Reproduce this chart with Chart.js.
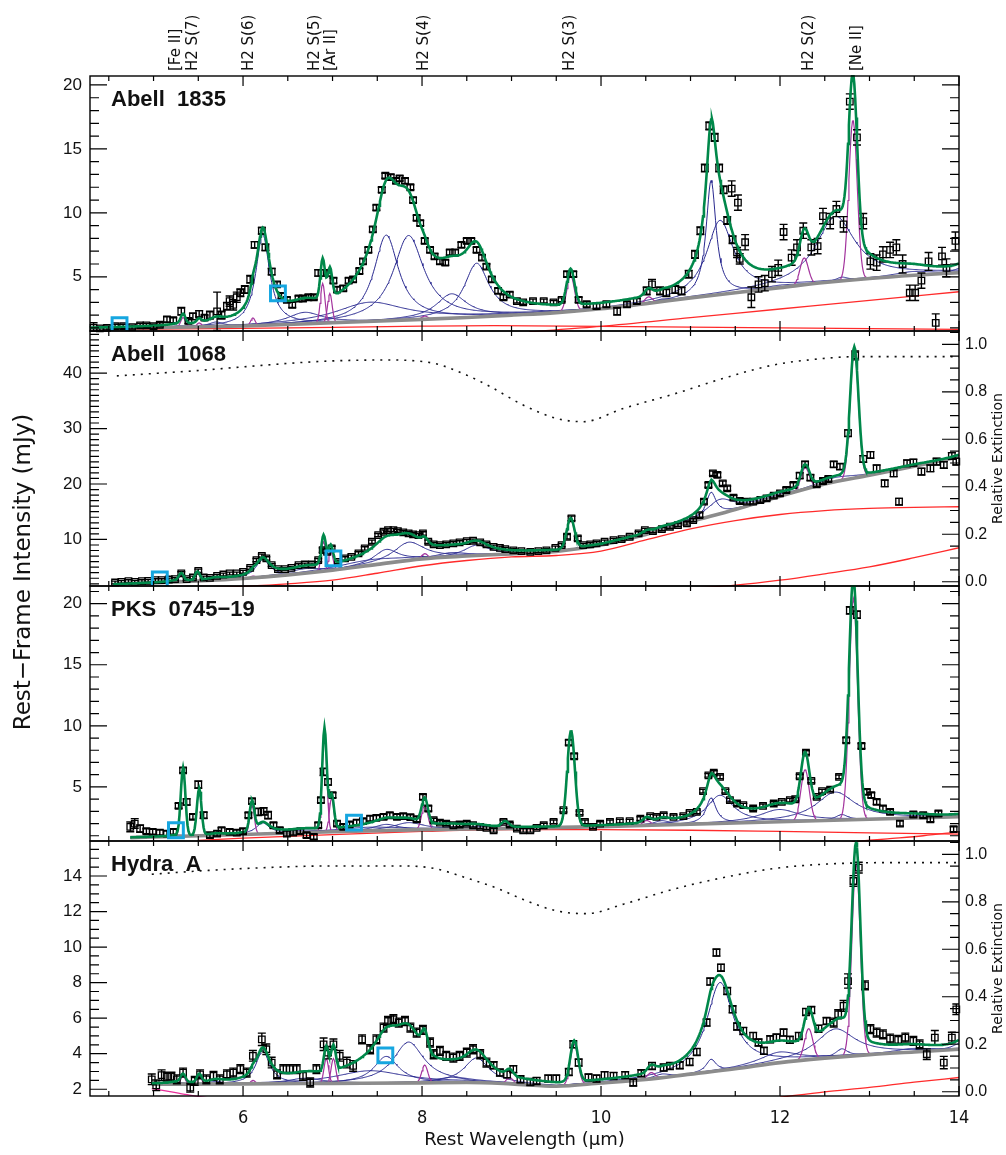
<!DOCTYPE html>
<html>
<head>
<meta charset="utf-8">
<script src="https://cdn.jsdelivr.net/npm/chart.js@4.4.0/dist/chart.umd.min.js"></script>
<style>
  html, body { margin: 0; padding: 0; background: #fff; }
  #wrap { position: relative; width: 1006px; height: 1155px; }
  #wrap canvas { position: absolute; left: 0; top: 0; }
</style>
</head>
<body>
<div id="wrap">
  <canvas id="p1" width="1006" height="1155"></canvas>
  <canvas id="p2" width="1006" height="1155"></canvas>
  <canvas id="p3" width="1006" height="1155"></canvas>
  <canvas id="p4" width="1006" height="1155"></canvas>
</div>
<script>
// ---------- shared lists ----------
const waveTicks = [6, 8, 10, 12, 14];
const extTicks = [0, 0.2, 0.4, 0.6, 0.8, 1.0];

const labelNames = ['[Fe II]', 'H2 S(7)', 'H2 S(6)', 'H2 S(5)', '[Ar II]', 'H2 S(4)', 'H2 S(3)', 'H2 S(2)', '[Ne II]'];
const labelWave = [5.25, 5.44, 6.07, 6.80, 6.98, 8.02, 9.66, 12.33, 12.86];

// PAH bands (centre, fractional FWHM)
const pahWave = [5.27, 5.70, 6.22, 6.69, 7.42, 7.60, 7.85, 8.33, 8.61, 10.68, 11.23, 11.33, 11.99, 12.62, 12.69, 13.48, 14.04];
const pahFrac = [0.034, 0.035, 0.030, 0.07, 0.126, 0.044, 0.053, 0.05, 0.039, 0.02, 0.012, 0.032, 0.045, 0.042, 0.013, 0.04, 0.016];
// emission lines: [Fe II], H2 S(7), S(6), S(5), [Ar II], S(4), [Ar III], S(3), [S IV], S(2), [Ne II]
const lineFwhm = [0.06, 0.06, 0.06, 0.06, 0.06, 0.08, 0.09, 0.1, 0.1, 0.11, 0.11];

// ---------- Abell 1835 ----------
const a1835Wave = [4.33,4.40,4.48,4.57,4.66,4.76,4.85,4.92,5.00,5.07,
  5.15,5.22,5.31,5.39,5.44,5.51,5.57,5.63,5.71,5.76,
  5.82,5.85,5.89,5.93,5.97,6.02,6.08,6.13,6.21,6.25,
  6.32,6.38,6.43,6.49,6.55,6.62,6.67,6.73,6.79,6.84,
  6.90,6.95,7.01,7.05,7.12,7.18,7.23,7.30,7.34,7.40,
  7.45,7.49,7.55,7.59,7.65,7.71,7.75,7.81,7.87,7.90,
  7.94,7.98,8.03,8.09,8.14,8.20,8.26,8.31,8.37,8.44,
  8.50,8.55,8.61,8.67,8.72,8.78,8.85,8.91,8.98,9.06,
  9.13,9.24,9.36,9.47,9.56,9.62,9.69,9.75,9.84,9.95,
  10.06,10.18,10.29,10.40,10.51,10.57,10.66,10.73,10.83,10.90,
  10.98,11.05,11.11,11.16,11.21,11.27,11.32,11.37,11.41,11.46,
  11.47,11.52,11.53,11.55,11.61,11.68,11.76,11.83,11.91,11.98,
  12.04,12.13,12.19,12.26,12.35,12.42,12.48,12.56,12.63,12.71,
  12.78,12.86,12.93,13.01,13.08,13.15,13.23,13.30,13.37,13.45,
  13.51,13.58,13.66,13.74,13.81,13.86,13.96];
const a1835Flux = [1.0,0.96,1.0,1.13,1.13,1.07,1.2,1.2,1.13,1.25,
  1.67,1.6,2.3,1.55,1.9,2.1,1.8,2.0,2.3,2.0,
  2.7,3.1,2.8,3.4,3.75,4.0,4.8,7.5,8.6,7.3,
  5.4,4.4,3.5,3.2,2.8,3.3,3.3,3.4,3.4,5.3,
  5.3,5.3,4.7,4.0,4.1,4.7,4.8,5.45,6.2,7.1,
  8.7,10.4,11.8,12.9,12.8,12.5,12.7,12.5,12.0,11.0,
  9.6,9.2,7.8,7.1,6.6,6.2,6.1,6.9,6.9,7.5,
  7.8,7.8,7.1,6.5,5.8,4.8,3.9,3.4,3.6,3.1,
  3.0,3.1,3.1,3.0,3.2,5.2,5.2,3.2,2.85,2.7,
  2.85,2.3,2.85,3.1,3.9,4.4,3.9,3.75,4.0,3.9,
  5.2,6.75,8.6,13.5,16.8,15.9,13.5,11.8,9.4,11.9,
  7.9,6.9,10.8,6.4,7.7,3.4,4.4,4.5,5.2,5.7,
  8.5,6.5,7.3,8.6,7.3,7.4,9.75,9.35,10.3,9.1,
  18.7,15.9,9.35,6.2,6.1,6.75,7.1,7.3,6.0,3.75,
  3.75,4.7,6.2,1.4,6.6,5.7,7.8];
const a1835Err = [0.4,0.15,0.15,0.15,0.15,0.15,0.15,0.15,0.15,0.15,
  0.2,0.2,0.3,0.2,0.25,0.25,0.2,0.3,1.5,0.3,
  0.3,0.4,0.4,0.4,0.3,0.3,0.3,0.25,0.25,0.25,
  0.25,0.2,0.2,0.2,0.2,0.2,0.2,0.2,0.2,0.25,
  0.25,0.25,0.2,0.2,0.2,0.2,0.2,0.2,0.2,0.2,
  0.2,0.2,0.2,0.2,0.2,0.2,0.2,0.2,0.2,0.2,
  0.2,0.2,0.2,0.2,0.2,0.2,0.2,0.2,0.2,0.2,
  0.2,0.2,0.2,0.2,0.2,0.2,0.2,0.2,0.2,0.15,
  0.15,0.15,0.15,0.15,0.15,0.2,0.2,0.2,0.2,0.2,
  0.2,0.3,0.2,0.2,0.3,0.4,0.3,0.3,0.3,0.3,
  0.3,0.3,0.3,0.3,0.3,0.3,0.3,0.3,0.3,0.6,
  0.3,0.4,0.6,0.4,0.6,0.8,0.6,0.6,0.6,0.6,
  0.6,0.6,0.6,0.6,0.6,0.6,0.6,0.6,0.6,0.6,
  0.6,0.6,0.6,0.6,0.6,0.6,0.6,0.6,0.7,0.6,
  0.6,0.6,0.7,0.7,0.7,0.7,0.7];
const a1835ContWave = [4.29, 5, 6, 7, 8, 8.5, 9, 9.5, 10, 10.5, 11, 11.5, 12, 12.5, 13, 13.5, 14];
const a1835Cont = [0.96, 1.03, 1.15, 1.4, 1.67, 1.82, 2.0, 2.2, 2.5, 2.9, 3.35, 3.75, 4.15, 4.55, 4.87, 5.12, 5.32];
const a1835Red1Wave = [4.29, 5, 6, 7, 8, 8.8, 10, 12, 14];
const a1835Red1 = [0.86, 0.9, 0.97, 1.05, 1.14, 1.18, 1.12, 1.01, 0.89];
const a1835Red2Wave = [9.2, 10, 11, 12, 13, 14];
const a1835Red2 = [0.7, 1.12, 1.8, 2.48, 3.16, 3.83];
const a1835Pah = [0.1, 0.35, 7.1, 0.9, 1.5, 6.7, 6.6, 1.9, 4.2, 0.2, 9.0, 5.8, 0.2, 5.1, 0.3, 0.3, 0.4];
const a1835LineWave = [5.33, 5.51, 6.11, 6.89, 6.97, 8.03, 8.99, 9.66, 10.53, 12.27, 12.815];
const a1835Line = [0.75, 0.3, 0.6, 3.1, 2.3, 0.25, 0, 2.8, 0.5, 2.1, 12.5];
const a1835MarkWave = [4.62, 6.39];
const a1835Mark = [1.22, 3.7];
const a1835Ticks = [5, 10, 15, 20];

// ---------- Abell 1068 ----------
const a1068Wave = [4.57,4.64,4.72,4.79,4.87,4.94,5.02,5.09,5.17,5.24,
  5.31,5.37,5.44,5.50,5.56,5.63,5.71,5.78,5.85,5.93,
  6.00,6.08,6.15,6.21,6.26,6.32,6.39,6.47,6.54,6.62,
  6.69,6.77,6.84,6.89,6.94,6.99,7.06,7.14,7.21,7.29,
  7.36,7.44,7.51,7.57,7.62,7.68,7.73,7.79,7.85,7.90,
  7.96,8.01,8.07,8.13,8.20,8.27,8.35,8.42,8.50,8.57,
  8.65,8.72,8.80,8.87,
  8.93,9.02,9.11,9.21,9.30,9.39,9.49,9.56,9.62,9.67,
  9.74,9.80,9.88,9.95,10.04,10.14,10.23,10.32,10.42,10.49,
  10.58,10.68,10.77,10.86,10.96,11.03,11.10,11.15,11.20,11.25,
  11.30,11.36,11.41,11.48,11.55,11.63,11.70,11.78,11.85,11.93,
  12.00,12.07,12.15,12.22,12.28,12.34,12.41,12.48,12.54,12.60,
  12.67,12.76,12.84,12.93,13.01,13.08,13.17,13.27,13.33,13.42,
  13.49,13.58,13.68,13.75,13.83,13.92,13.97];
const a1068Flux = [2.23,2.35,2.47,2.35,2.47,2.53,2.65,2.65,2.77,2.83,
  3.86,2.83,3.13,4.34,3.13,3.07,3.43,3.67,3.86,3.86,
  4.16,4.88,6.27,7.05,6.57,5.36,4.64,4.64,4.88,5.36,
  5.48,5.48,6.27,8.07,7.77,8.37,5.96,6.57,6.87,7.47,
  8.37,9.58,10.78,11.39,11.69,11.69,11.51,11.27,11.08,10.9,
  10.78,11.08,9.58,9.1,8.98,9.1,9.28,9.46,9.7,9.76,
  9.46,9.1,8.67,8.49,
  8.25,8.01,7.89,7.77,7.89,8.01,8.49,8.98,10.48,13.8,
  10.18,8.98,9.1,9.28,9.58,9.88,10.06,10.48,11.08,11.69,
  11.51,11.87,12.29,12.59,12.89,13.49,14.4,16.81,19.82,21.93,
  21.63,20.12,19.22,17.53,16.93,16.81,16.81,17.11,17.41,17.89,
  18.31,18.92,19.82,21.51,23.55,21.14,19.94,20.54,20.9,23.55,
  23.13,29.16,43.19,24.52,25.24,22.83,20.12,21.93,16.81,23.73,
  23.86,22.23,22.83,24.04,23.43,25.06,24.04];
const a1068Err = [0.25,0.25,0.25,0.25,0.25,0.25,0.25,0.25,0.25,0.25,
  0.3,0.25,0.25,0.3,0.25,0.25,0.25,0.25,0.25,0.25,
  0.25,0.25,0.3,0.3,0.3,0.25,0.25,0.25,0.25,0.25,
  0.25,0.25,0.3,0.4,0.4,0.4,0.3,0.3,0.3,0.3,
  0.3,0.3,0.3,0.3,0.3,0.3,0.3,0.3,0.3,0.3,
  0.3,0.3,0.3,0.3,0.3,0.3,0.3,0.3,0.3,0.3,
  0.3,0.3,0.3,0.3,
  0.3,0.3,0.3,0.3,0.3,0.3,0.3,0.3,0.4,0.4,
  0.4,0.3,0.3,0.3,0.3,0.3,0.3,0.3,0.3,0.3,
  0.3,0.3,0.3,0.3,0.3,0.3,0.4,0.4,0.4,0.4,
  0.4,0.4,0.4,0.4,0.4,0.4,0.4,0.4,0.4,0.4,
  0.4,0.4,0.4,0.5,0.5,0.5,0.4,0.4,0.4,0.5,
  0.5,0.6,0.8,0.6,0.6,0.6,0.6,0.6,0.6,0.6,
  0.6,0.6,0.6,0.6,0.6,0.6,0.6];
const a1068ContWave = [4.55, 5, 5.5, 6, 6.5, 7, 7.5, 8, 8.5, 9, 9.5, 10, 10.5, 11, 11.5, 12, 12.5, 13, 13.5, 14];
const a1068Cont = [1.87, 2.15, 2.5, 2.95, 3.6, 4.45, 5.5, 6.5, 7.0, 7.4, 7.85, 9.0, 10.9, 13.2, 15.4, 17.8, 20.0, 21.6, 23.2, 24.9];
const a1068Red1Wave = [5.5, 6.0, 6.5, 7.0, 7.5, 8.0, 8.5, 9.0, 9.5, 10.0, 10.5, 11.0, 11.5, 12.0, 12.5, 13.0, 13.5, 14.0];
const a1068Red1 = [1.2, 1.55, 2.0, 2.65, 3.9, 5.25, 6.2, 6.85, 7.1, 7.9, 9.9, 11.9, 13.4, 14.5, 15.2, 15.6, 15.8, 15.9];
const a1068Red2Wave = [11.1, 11.5, 12, 12.5, 13, 13.5, 14];
const a1068Red2 = [1.3, 1.75, 2.65, 3.8, 5.05, 6.7, 8.5];
const a1068Pah = [0.3, 0.3, 3.2, 0.8, 1.0, 2.5, 3.3, 0.8, 1.9, 0.3, 4.3, 2.6, 0.4, 0.8, 0.2, 0.2, 0.3];
const a1068LineWave = [5.31, 5.49, 6.11, 6.90, 6.98, 8.03, 8.99, 9.66, 10.51, 12.28, 12.83];
const a1068Line = [1.2, 1.5, 0.3, 5.3, 3.4, 0.9, 0, 5.4, 0.4, 3.9, 23.0];
const a1068MarkWave = [5.07, 7.01];
const a1068Mark = [2.77, 6.57];
const a1068ExtWave = [4.59, 5.0, 5.52, 6.0, 6.64, 7.0, 7.57, 8.13, 8.5, 8.76, 9.13, 9.5, 9.8, 10.25, 10.81, 11.37, 11.93, 12.48, 12.86, 13.5, 14.0];
const a1068Ext = [0.867, 0.877, 0.89, 0.905, 0.923, 0.93, 0.934, 0.92, 0.87, 0.822, 0.744, 0.688, 0.674, 0.73, 0.79, 0.857, 0.913, 0.94, 0.948, 0.948, 0.948];
const a1068Ticks = [10, 20, 30, 40];

// ---------- PKS 0745-19 ----------
const pksWave = [4.74,4.79,4.85,4.92,4.99,5.07,5.15,5.22,5.28,5.33,
  5.37,5.44,5.50,5.56,5.63,5.71,5.76,5.85,5.93,6.00,
  6.06,6.10,6.17,6.23,6.28,6.34,6.41,6.49,6.56,6.64,
  6.71,6.79,6.84,6.87,6.90,6.95,7.00,7.05,7.12,7.19,
  7.27,7.34,7.42,7.49,7.57,7.64,7.72,7.79,7.87,7.94,
  8.01,8.07,8.13,8.20,8.27,8.35,8.42,8.50,8.57,8.65,
  8.72,8.80,
  8.91,8.98,9.06,9.13,9.21,9.28,9.36,9.47,9.58,9.64,
  9.70,9.76,9.82,9.91,9.99,10.10,10.21,10.32,10.44,10.55,
  10.62,10.70,10.81,10.92,10.99,11.07,11.14,11.20,11.26,11.33,
  11.39,11.44,11.52,11.59,11.70,11.81,11.93,12.02,12.11,12.17,
  12.22,12.29,12.35,12.41,12.47,12.56,12.66,12.74,12.78,12.86,
  12.91,12.97,13.02,13.08,13.15,13.23,13.34,13.49,13.60,13.68,
  13.77,13.94];
const pksFlux = [1.73,2.0,1.59,1.37,1.32,1.26,1.18,1.32,3.45,6.36,
  3.77,2.55,5.19,2.68,1.05,1.18,1.45,1.32,1.26,1.37,
  2.68,3.83,2.95,3.0,2.68,1.86,1.45,1.18,1.26,1.37,
  1.05,0.91,1.86,3.91,6.23,5.41,4.32,2.0,1.73,1.92,
  2.08,2.19,2.41,2.46,2.55,2.68,2.55,2.6,2.52,2.35,
  4.18,3.23,2.27,2.08,2.0,1.86,1.92,2.0,1.86,1.73,
  1.65,1.45,
  2.14,1.92,1.59,1.45,1.45,1.65,1.86,2.14,3.09,8.63,
  7.51,2.87,2.14,1.73,2.0,2.14,2.19,2.19,2.41,2.6,
  2.55,2.68,2.55,2.6,2.87,2.95,4.65,5.95,6.17,5.82,
  4.65,3.91,3.64,3.5,3.23,3.45,3.64,3.77,3.91,3.99,
  5.87,7.81,5.49,4.18,4.65,4.78,5.82,8.82,19.45,19.1,
  8.35,4.59,4.32,3.77,3.23,2.95,2.0,2.74,2.68,2.35,
  2.82,1.54];
const pksErr = [0.4,0.4,0.3,0.2,0.2,0.2,0.2,0.2,0.2,0.2,
  0.25,0.2,0.3,0.25,0.2,0.2,0.2,0.2,0.2,0.2,
  0.2,0.2,0.3,0.3,0.3,0.2,0.2,0.2,0.2,0.2,
  0.2,0.2,0.2,0.2,0.3,0.25,0.2,0.2,0.2,0.2,
  0.2,0.2,0.2,0.2,0.2,0.2,0.2,0.2,0.2,0.2,
  0.2,0.2,0.15,0.15,0.15,0.15,0.15,0.15,0.15,0.15,
  0.15,0.15,
  0.15,0.15,0.15,0.15,0.15,0.15,0.15,0.15,0.15,0.2,
  0.2,0.15,0.15,0.15,0.15,0.15,0.15,0.15,0.15,0.15,
  0.15,0.15,0.15,0.15,0.15,0.15,0.15,0.15,0.15,0.15,
  0.15,0.15,0.15,0.15,0.15,0.15,0.15,0.15,0.15,0.15,
  0.15,0.15,0.15,0.15,0.15,0.15,0.15,0.2,0.3,0.3,
  0.2,0.2,0.2,0.2,0.2,0.2,0.2,0.2,0.2,0.2,
  0.2,0.2];
const pksContWave = [4.74, 5, 6, 7, 8, 9, 10, 11, 12, 13, 14];
const pksCont = [0.85, 0.9, 1.1, 1.33, 1.5, 1.6, 1.75, 1.95, 2.15, 2.35, 2.55];
const pksRed1Wave = [5.5, 6, 7, 8, 9, 10, 11, 12, 13, 14];
const pksRed1 = [0.62, 0.8, 1.1, 1.35, 1.5, 1.5, 1.45, 1.35, 1.24, 1.13];
const pksRed2Wave = [12.8, 13.2, 13.6, 14];
const pksRed2 = [0.5, 0.75, 1.0, 1.32];
const pksPah = [0.1, 0.1, 0.9, 0.2, 0.3, 0.5, 0.6, 0.2, 0.2, 0.35, 2.1, 2.3, 1.0, 2.3, 0.45, 0.1, 0.1];
const pksLineWave = [5.33, 5.51, 6.10, 6.91, 6.99, 8.03, 8.93, 9.665, 10.51, 12.28, 12.82];
const pksLine = [5.5, 3.8, 2.4, 8.2, 2.75, 2.0, 0.45, 7.8, 0.4, 4.2, 18.1];
const pksMarkWave = [5.25, 7.24];
const pksMark = [1.45, 2.08];
const pksTicks = [5, 10, 15, 20];

// ---------- Hydra A ----------
const hydraWave = [4.98,5.03,5.09,5.15,5.20,5.26,5.33,5.41,5.46,5.52,
  5.59,5.67,5.74,5.82,5.89,5.97,6.04,6.11,6.21,6.26,
  6.32,6.38,6.45,6.52,6.60,6.67,6.75,6.82,6.90,6.95,
  7.01,7.08,7.16,7.23,7.33,7.42,7.49,7.57,7.62,7.68,
  7.74,7.81,7.87,7.94,8.01,8.09,8.13,8.20,8.27,8.35,
  8.42,8.50,8.57,8.65,8.72,
  8.80,8.87,8.95,9.02,9.10,9.21,9.28,9.41,9.50,9.64,
  9.69,9.75,9.86,9.95,10.04,10.14,10.27,10.36,10.45,10.57,
  10.70,10.77,10.88,10.99,11.07,11.18,11.22,11.29,11.34,11.41,
  11.47,11.52,11.59,11.70,11.76,11.82,11.89,11.96,12.04,12.11,
  12.21,12.29,12.35,12.43,12.52,12.60,12.65,12.71,12.76,12.82,
  12.88,12.95,13.01,13.08,13.15,13.23,13.32,13.40,13.49,13.56,
  13.64,13.73,13.83,13.92,13.97];
const hydraFlux = [2.56,2.22,2.79,2.71,2.71,2.56,2.94,2.09,2.47,2.84,
  2.56,2.75,2.56,2.84,2.94,3.13,2.94,3.88,4.81,4.25,
  3.5,2.84,3.13,3.13,3.13,2.75,2.38,3.13,4.53,4.06,
  4.53,3.88,3.5,3.31,4.81,4.25,4.81,5.47,5.84,5.94,
  5.75,5.84,5.47,5.19,5.34,4.63,3.97,4.16,3.88,3.78,
  3.88,4.06,4.25,3.97,3.5,
  3.35,2.94,2.84,3.13,2.56,2.41,2.47,2.6,2.6,2.97,
  4.53,3.5,2.66,2.6,2.79,2.75,2.79,2.38,2.9,3.31,
  3.22,3.31,3.35,3.54,4.1,5.75,8.06,9.69,8.84,7.53,
  6.5,5.53,5.28,5.0,4.63,4.16,4.81,4.91,5.19,4.78,
  5.0,6.35,6.46,5.41,5.84,5.75,6.22,6.69,8.09,13.72,
  14.47,7.85,5.38,5.19,5.09,4.85,4.78,4.91,4.72,4.53,
  3.97,4.91,3.5,4.91,6.5];
const hydraErr = [0.3,0.3,0.3,0.25,0.25,0.25,0.25,0.25,0.25,0.25,
  0.25,0.25,0.25,0.25,0.25,0.25,0.25,0.3,0.35,0.3,
  0.3,0.25,0.25,0.25,0.25,0.25,0.25,0.25,0.35,0.35,
  0.3,0.3,0.3,0.3,0.25,0.25,0.25,0.25,0.25,0.25,
  0.25,0.25,0.25,0.25,0.25,0.25,0.25,0.25,0.25,0.25,
  0.25,0.25,0.25,0.25,0.25,
  0.2,0.2,0.2,0.2,0.2,0.2,0.2,0.2,0.2,0.2,
  0.2,0.2,0.2,0.2,0.2,0.2,0.2,0.2,0.2,0.2,
  0.2,0.2,0.2,0.2,0.2,0.2,0.2,0.2,0.2,0.2,
  0.2,0.2,0.2,0.2,0.2,0.2,0.2,0.2,0.2,0.2,
  0.2,0.2,0.2,0.2,0.2,0.25,0.25,0.3,0.4,0.3,
  0.3,0.25,0.25,0.25,0.25,0.25,0.25,0.25,0.25,0.25,
  0.3,0.4,0.35,0.3,0.3];
const hydraContWave = [4.98, 6, 7, 8, 8.5, 9, 9.5, 10, 10.5, 11, 11.5, 12, 12.5, 13, 13.5, 14];
const hydraCont = [2.28, 2.3, 2.33, 2.36, 2.38, 2.3, 2.17, 2.35, 2.55, 2.85, 3.15, 3.5, 3.75, 3.95, 4.1, 4.25];
const hydraRed1Wave = [12.0, 12.5, 13, 13.5, 14];
const hydraRed1 = [1.55, 1.85, 2.1, 2.4, 2.66];
const hydraStarWave = [4.98, 5.2, 5.4, 5.6, 5.8];
const hydraStar = [2.04, 1.85, 1.67, 1.53, 1.42];
const hydraPah = [0.1, 0.15, 1.85, 0.3, 0.7, 1.5, 2.3, 0.3, 1.4, 0.2, 0.7, 4.96, 0.6, 1.6, 0.45, 0.2, 0.4];
const hydraLineWave = [5.33, 5.51, 6.11, 6.93, 7.01, 8.03, 8.98, 9.70, 10.56, 12.32, 12.85];
const hydraLine = [0.45, 0.45, 0.2, 1.4, 1.4, 1.0, 0.35, 2.3, 0.35, 1.75, 10.8];
const hydraMarkWave = [7.59];
const hydraMark = [3.91];
const hydraExtWave = [4.98, 5.52, 6.26, 7.01, 7.75, 8.13, 8.5, 8.84, 9.13, 9.5, 9.84, 10.25, 10.81, 11.37, 11.93, 12.48, 13.23, 14.0];
const hydraExt = [0.916, 0.93, 0.944, 0.951, 0.951, 0.941, 0.90, 0.857, 0.81, 0.762, 0.75, 0.79, 0.853, 0.902, 0.94, 0.958, 0.965, 0.965];
const hydraTicks = [2, 4, 6, 8, 10, 12, 14];

// ---------- layout + style ----------
const CANVAS_W = 1006, CANVAS_H = 1155;
const PLOT_LEFT = 90, PLOT_RIGHT = 959, PANEL_H = 255;
const X_MIN = 4.29, X_MAX = 14.0;
const SANS = "'DejaVu Sans', 'Liberation Sans', Arial, sans-serif";
const TICKFONT = "'Liberation Sans', Arial, sans-serif";
const NARROW = "'Liberation Sans Narrow', 'DejaVu Sans Condensed', 'Liberation Sans', sans-serif";
const INK = '#111';
const GREEN = '#00884a', BLUE = '#28288f', MAGENTA = '#a3339d', RED = '#ff2b2b';
const GRAY = '#8c8c8c', CYAN = '#16a6e0', PINK = '#e8309a';

const panels = [
  { id: 'p1', top: 76, yMin: 0.76, yMax: 20.7, minor: 1, major: 5, ticks: a1835Ticks, title: 'Abell  1835',
    wave: a1835Wave, flux: a1835Flux, err: a1835Err, contWave: a1835ContWave, cont: a1835Cont,
    reds: [[a1835Red1Wave, a1835Red1, RED], [a1835Red2Wave, a1835Red2, RED]],
    pah: a1835Pah, lineWave: a1835LineWave, lines: a1835Line, markWave: a1835MarkWave, mark: a1835Mark },
  { id: 'p2', top: 331, yMin: 1.6, yMax: 47.6, minor: 1, major: 10, ticks: a1068Ticks, title: 'Abell  1068',
    wave: a1068Wave, flux: a1068Flux, err: a1068Err, contWave: a1068ContWave, cont: a1068Cont,
    reds: [[a1068Red1Wave, a1068Red1, RED], [a1068Red2Wave, a1068Red2, RED]],
    pah: a1068Pah, lineWave: a1068LineWave, lines: a1068Line, markWave: a1068MarkWave, mark: a1068Mark,
    extWave: a1068ExtWave, ext: a1068Ext },
  { id: 'p3', top: 586, yMin: 0.57, yMax: 21.45, minor: 1, major: 5, ticks: pksTicks, title: 'PKS  0745\u221219',
    wave: pksWave, flux: pksFlux, err: pksErr, contWave: pksContWave, cont: pksCont,
    reds: [[pksRed1Wave, pksRed1, RED], [pksRed2Wave, pksRed2, RED]],
    pah: pksPah, lineWave: pksLineWave, lines: pksLine, markWave: pksMarkWave, mark: pksMark },
  { id: 'p4', top: 841, yMin: 1.62, yMax: 15.97, minor: 0.5, major: 2, ticks: hydraTicks, title: 'Hydra  A',
    wave: hydraWave, flux: hydraFlux, err: hydraErr, contWave: hydraContWave, cont: hydraCont,
    reds: [[hydraRed1Wave, hydraRed1, RED], [hydraStarWave, hydraStar, PINK]],
    pah: hydraPah, lineWave: hydraLineWave, lines: hydraLine, markWave: hydraMarkWave, mark: hydraMark,
    extWave: hydraExtWave, ext: hydraExt }
];

// ---------- model helpers ----------
function interp(xs, ys, x) {
  if (x <= xs[0]) return ys[0];
  for (let i = 1; i < xs.length; i++) {
    if (x <= xs[i]) {
      const t = (x - xs[i - 1]) / (xs[i] - xs[i - 1]);
      return ys[i - 1] + t * (ys[i] - ys[i - 1]);
    }
  }
  return ys[ys.length - 1];
}
function drude(x, c, g) {
  const d = x / c - c / x;
  return g * g / (d * d + g * g);
}
function gauss(x, c, fwhm) {
  const s = (x - c) / fwhm;
  return Math.exp(-4 * Math.LN2 * s * s);
}
function pairs(xs, ys) { return xs.map((x, i) => ({ x: x, y: ys[i] })); }
function curve(data, color, width, order, smooth) {
  const ds = { type: 'line', data: data, borderColor: color, borderWidth: width,
    pointRadius: 0, fill: false, order: order, clip: 1 };
  if (smooth) ds.cubicInterpolationMode = 'monotone';
  return ds;
}

// frame, inward ticks, error bars and panel text
function makeFrame(p, first) {
  return {
    id: 'frame_' + p.id,
    afterDatasetDraw(chart, args) {
      const ds = chart.data.datasets[args.index];
      if (!ds.errors) return;
      const { ctx, chartArea: a, scales: { x, y } } = chart;
      ctx.save();
      ctx.beginPath(); ctx.rect(a.left, a.top, a.width, a.height); ctx.clip();
      ctx.strokeStyle = '#000'; ctx.lineWidth = 1.4;
      ctx.beginPath();
      ds.data.forEach((pt, i) => {
        const px = x.getPixelForValue(pt.x);
        const yt = y.getPixelForValue(pt.y + ds.errors[i]);
        const yb = y.getPixelForValue(pt.y - ds.errors[i]);
        ctx.moveTo(px, yt); ctx.lineTo(px, yb);
        ctx.moveTo(px - 4, yt); ctx.lineTo(px + 4, yt);
        ctx.moveTo(px - 4, yb); ctx.lineTo(px + 4, yb);
      });
      ctx.stroke();
      ctx.restore();
    },
    afterDraw(chart) {
      const { ctx, chartArea: a, scales } = chart;
      const x = scales.x, y = scales.y, y2 = scales.y2;
      ctx.save();
      ctx.strokeStyle = '#000';
      ctx.lineWidth = 1.4;
      ctx.strokeRect(a.left, a.top, a.width, a.height);
      ctx.lineWidth = 1.2;
      ctx.beginPath();
      for (let i = 1; 4.0 + i * 0.5 <= X_MAX + 1e-9; i++) {
        const v = 4.0 + i * 0.5;
        if (v < X_MIN) continue;
        const px = x.getPixelForValue(v);
        const len = i % 4 === 0 ? 10 : 5;
        ctx.moveTo(px, a.bottom); ctx.lineTo(px, a.bottom - len);
        ctx.moveTo(px, a.top); ctx.lineTo(px, a.top + len);
      }
      const n0 = Math.ceil(p.yMin / p.minor - 1e-9), n1 = Math.floor(p.yMax / p.minor + 1e-9);
      for (let n = n0; n <= n1; n++) {
        const v = n * p.minor;
        const r = v / p.major;
        const len = Math.abs(r - Math.round(r)) < 1e-6 ? 17 : 9;
        const py = y.getPixelForValue(v);
        ctx.moveTo(a.left, py); ctx.lineTo(a.left + len, py);
        if (!y2) { ctx.moveTo(a.right, py); ctx.lineTo(a.right - len, py); }
      }
      if (y2) {
        for (let n = 0; n * 0.05 <= y2.max + 1e-9; n++) {
          const py = y2.getPixelForValue(n * 0.05);
          const len = n % 4 === 0 ? 17 : 9;
          ctx.moveTo(a.right, py); ctx.lineTo(a.right - len, py);
        }
      }
      ctx.stroke();

      ctx.fillStyle = INK;
      ctx.font = 'bold 22px ' + TICKFONT;
      ctx.textAlign = 'left';
      ctx.textBaseline = 'alphabetic';
      ctx.fillText(p.title, 111, a.top + 30);

      if (y2) {
        ctx.save();
        ctx.translate(998, (a.top + a.bottom) / 2);
        ctx.rotate(-Math.PI / 2);
        ctx.font = '14px ' + SANS;
        ctx.textAlign = 'center';
        ctx.textBaseline = 'middle';
        ctx.fillText('Relative Extinction', 0, 0);
        ctx.restore();
      }

      if (first) {
        ctx.font = '15px ' + SANS;
        labelNames.forEach((t, i) => {
          const px = x.getPixelForValue(labelWave[i]);
          ctx.save();
          ctx.translate(px, 71);
          ctx.rotate(-Math.PI / 2);
          ctx.textAlign = 'left';
          ctx.textBaseline = 'middle';
          ctx.fillText(t, 0, 0);
          ctx.restore();
        });
        ctx.save();
        ctx.translate(24, 572);
        ctx.rotate(-Math.PI / 2);
        ctx.font = '23px ' + SANS;
        ctx.textAlign = 'center';
        ctx.textBaseline = 'middle';
        ctx.fillText('Rest\u2212Frame Intensity (mJy)', 0, 0);
        ctx.restore();
      }
      ctx.restore();
    }
  };
}

function buildPanel(p, idx) {
  const first = idx === 0, last = idx === panels.length - 1;
  const bottom = p.top + PANEL_H;

  // model sampled on a fine wavelength grid
  const grid = [];
  for (let i = 0; p.contWave[0] + i * 0.01 <= X_MAX + 1e-9; i++) grid.push(p.contWave[0] + i * 0.01);
  const base = grid.map(w => interp(p.contWave, p.cont, w));
  const total = base.slice();
  const datasets = [];

  p.pah.forEach((amp, k) => {
    if (!amp) return;
    const pts = grid.map((w, i) => {
      const v = amp * drude(w, pahWave[k], pahFrac[k]);
      total[i] += v;
      return { x: w, y: base[i] + v };
    });
    datasets.push(curve(pts, BLUE, 1, 7, false));
  });
  p.lines.forEach((amp, k) => {
    if (!amp) return;
    const c = p.lineWave[k], f = lineFwhm[k];
    const pts = [];
    grid.forEach((w, i) => {
      const v = amp * gauss(w, c, f);
      total[i] += v;
      if (Math.abs(w - c) < 1.8 * f) pts.push({ x: w, y: base[i] + v });
    });
    datasets.push(curve(pts, MAGENTA, 1.2, 6, false));
  });
  p.reds.forEach(r => datasets.push(curve(pairs(r[0], r[1]), r[2], 1.3, 8, true)));
  datasets.push(curve(pairs(p.contWave, p.cont), GRAY, 3.6, 5, true));
  datasets.push(curve(grid.map((w, i) => ({ x: w, y: total[i] })), GREEN, 2.6, 3, false));

  datasets.push({
    type: 'scatter', data: pairs(p.wave, p.flux), errors: p.err,
    pointStyle: 'rect', pointRadius: 4.6, borderColor: '#000', borderWidth: 1.3,
    backgroundColor: 'rgba(0,0,0,0)', order: 4, clip: 2
  });
  datasets.push({
    type: 'scatter', data: pairs(p.markWave, p.mark),
    pointStyle: 'rect', pointRadius: 10.5, borderColor: CYAN, borderWidth: 3,
    backgroundColor: 'rgba(0,0,0,0)', order: 1
  });

  const scales = {
    x: {
      type: 'linear', position: 'bottom', min: X_MIN, max: X_MAX,
      grid: { display: false, drawTicks: false }, border: { display: false },
      ticks: { display: last, font: { family: NARROW, size: 18 }, color: INK, padding: 12, maxRotation: 0, autoSkip: false },
      afterBuildTicks: s => { s.ticks = waveTicks.map(v => ({ value: v })); },
      afterFit: s => { s.height = CANVAS_H - bottom; },
      title: last ? { display: true, text: 'Rest Wavelength (\u03bcm)', font: { family: SANS, size: 18 },
        color: INK, padding: { top: 0, bottom: 4 } } : { display: false }
    },
    y: {
      type: 'linear', position: 'left', min: p.yMin, max: p.yMax,
      grid: { display: false, drawTicks: false }, border: { display: false },
      ticks: { font: { family: TICKFONT, size: 17 }, color: INK, padding: 8, autoSkip: false },
      afterBuildTicks: s => { s.ticks = p.ticks.map(v => ({ value: v })); },
      afterFit: s => { s.width = PLOT_LEFT; }
    }
  };
  if (p.ext) {
    datasets.push({ type: 'line', data: pairs(p.extWave, p.ext), yAxisID: 'y2', borderColor: INK,
      borderWidth: 1.6, borderDash: [2, 6], pointRadius: 0, fill: false, order: 9,
      cubicInterpolationMode: 'monotone' });
    scales.y2 = {
      type: 'linear', position: 'right', min: -0.018, max: 1.056,
      grid: { display: false, drawTicks: false }, border: { display: false },
      ticks: { font: { family: TICKFONT, size: 16 }, color: INK, padding: 6, autoSkip: false,
        callback: v => v.toFixed(1) },
      afterBuildTicks: s => { s.ticks = extTicks.map(v => ({ value: v })); },
      afterFit: s => { s.width = CANVAS_W - PLOT_RIGHT; }
    };
  }

  new Chart(document.getElementById(p.id), {
    type: 'line',
    data: { datasets: datasets },
    options: {
      responsive: false, animation: false, devicePixelRatio: 1, events: [], parsing: false,
      layout: { autoPadding: false,
        padding: { top: p.top, left: 0, bottom: 0, right: p.ext ? 0 : CANVAS_W - PLOT_RIGHT } },
      plugins: { legend: { display: false }, tooltip: { enabled: false } },
      scales: scales
    },
    plugins: [makeFrame(p, first)]
  });
}

panels.forEach(buildPanel);
</script>
</body>
</html>
